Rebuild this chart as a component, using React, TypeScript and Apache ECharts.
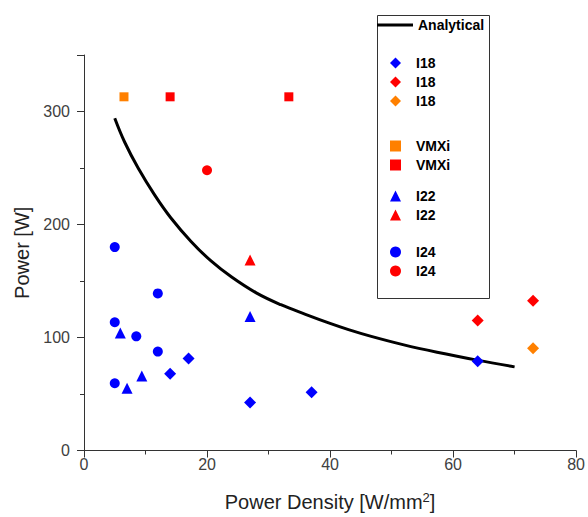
import React, { useEffect, useRef } from "react";
import * as echarts from "echarts";

const FONT = "'Liberation Sans', Arial, sans-serif";

// Analytical curve
const analytical: [number, number][] = [
  [5, 294], [6.6, 273], [8.8, 250], [11.5, 226], [14.1, 206], [17.4, 185],
  [20.6, 168], [24, 153.5], [28, 139.5], [32, 129], [36, 120.5], [40, 112.5],
  [43, 107], [46.7, 101], [52, 93.5], [57.4, 87], [63.9, 80], [70, 74],
];

const i18Blue: [number, number][] = [[14, 68], [17, 81.5], [27, 42.5], [37, 51.5], [64, 79]];
const i18Red: [number, number][] = [[64, 115], [73, 132.5]];
const i18Orange: [number, number][] = [[73, 90.5]];
const vmxiOrange: [number, number][] = [[6.5, 313]];
const vmxiRed: [number, number][] = [[14, 313], [33.3, 313]];
const i22Blue: [number, number][] = [[5.9, 104], [7, 55], [9.4, 66], [27, 118.5]];
const i22Red: [number, number][] = [[27, 168.5]];
const i24Blue: [number, number][] = [[5, 180], [5, 113.5], [5, 59.5], [8.5, 101], [12, 139], [12, 87.5]];
const i24Red: [number, number][] = [[20, 248]];

const BLUE = "#0000ff";
const RED = "#ff0000";
const ORANGE = "#ff8000";

export default function App() {
  const ref = useRef<HTMLDivElement>(null);
  useEffect(() => {
    if (!ref.current) return;
    const chart = echarts.init(ref.current, undefined, { renderer: "svg" });

    const scatter = (name: string, data: [number, number][], symbol: string, size: number, color: string) => ({
      name,
      type: "scatter",
      data,
      symbol,
      symbolSize: size,
      symbolKeepAspect: true,
      itemStyle: { color, opacity: 1 },
      z: 3,
    });

    const textStyle = {
      fontFamily: FONT,
      fontSize: 14,
      fontWeight: "bold",
      color: "#000",
    };

    const scatterLegend = {
      orient: "vertical",
      left: 390,
      padding: 0,
      itemWidth: 11,
      itemHeight: 11,
      itemGap: 5,
      selectedMode: false,
      formatter: (n: string) => n.split("#")[0],
      textStyle: { ...textStyle, padding: [0, 0, 0, 10] },
    };

    chart.setOption({
      animation: false,
      backgroundColor: "#fff",
      grid: { left: 84, right: 8, top: 55, bottom: 64 },
      xAxis: {
        type: "value",
        min: 0,
        max: 80,
        interval: 20,
        name: "{n|Power Density [W/mm}{s|2}{n|]}",
        nameLocation: "middle",
        nameGap: 40,
        nameTextStyle: {
          fontFamily: FONT,
          fontSize: 20,
          color: "#222",
          rich: {
            n: { fontFamily: FONT, fontSize: 20, color: "#222" },
            s: { fontFamily: FONT, fontSize: 13, color: "#222", padding: [0, 0, 10, 0] },
          },
        },
        axisLine: { show: true, lineStyle: { color: "#333", width: 1 } },
        axisTick: { show: true, length: 7, lineStyle: { color: "#333" } },
        minorTick: { show: true, splitNumber: 2, length: 4, lineStyle: { color: "#333" } },
        axisLabel: { fontFamily: FONT, fontSize: 16, color: "#404040", margin: 6 },
        splitLine: { show: false },
      },
      yAxis: {
        type: "value",
        min: 0,
        max: 350,
        interval: 100,
        name: "Power [W]",
        nameLocation: "middle",
        nameGap: 47,
        nameTextStyle: { fontFamily: FONT, fontSize: 20, color: "#222" },
        axisLine: { show: true, lineStyle: { color: "#333", width: 1 } },
        axisTick: { show: true, length: 7, lineStyle: { color: "#333" } },
        minorTick: { show: true, splitNumber: 2, length: 4, lineStyle: { color: "#333" } },
        axisLabel: { fontFamily: FONT, fontSize: 16, color: "#404040", margin: 14, showMaxLabel: false },
        splitLine: { show: false },
      },
      legend: [
        {
          orient: "vertical",
          left: 377,
          top: 18,
          padding: 0,
          itemWidth: 36,
          itemHeight: 3,
          selectedMode: false,
          data: [{ name: "Analytical", icon: "rect", itemStyle: { color: "#000" } }],
          textStyle: { ...textStyle, padding: [0, 0, 0, 0] },
        },
        { ...scatterLegend, top: 56, data: ["I18#1", "I18#2", "I18#3"] },
        { ...scatterLegend, top: 139, data: ["VMXi#1", "VMXi#2"] },
        { ...scatterLegend, top: 189, data: ["I22#1", "I22#2"] },
        { ...scatterLegend, top: 245, data: ["I24#1", "I24#2"] },
      ],
      graphic: [
        {
          type: "rect",
          shape: { x: 377.5, y: 15.5, width: 112, height: 283 },
          style: { fill: "none", stroke: "#333", lineWidth: 1 },
          z: 1,
        },
      ],
      series: [
        {
          name: "Analytical",
          type: "line",
          data: analytical,
          smooth: 0.4,
          symbol: "none",
          lineStyle: { color: "#000", width: 3 },
          itemStyle: { color: "#000" },
          z: 2,
        },
        scatter("I18#1", i18Blue, "diamond", 12, BLUE),
        scatter("I18#2", i18Red, "diamond", 12, RED),
        scatter("I18#3", i18Orange, "diamond", 12, ORANGE),
        scatter("VMXi#1", vmxiOrange, "rect", 9, ORANGE),
        scatter("VMXi#2", vmxiRed, "rect", 9, RED),
        scatter("I22#1", i22Blue, "triangle", 11, BLUE),
        scatter("I22#2", i22Red, "triangle", 11, RED),
        scatter("I24#1", i24Blue, "circle", 10, BLUE),
        scatter("I24#2", i24Red, "circle", 10, RED),
      ],
    });
    return () => chart.dispose();
  }, []);
  return (
    <div
      ref={ref}
      style={{ position: "fixed", left: 0, top: 0, width: 588, height: 517, background: "#fff" }}
    />
  );
}
